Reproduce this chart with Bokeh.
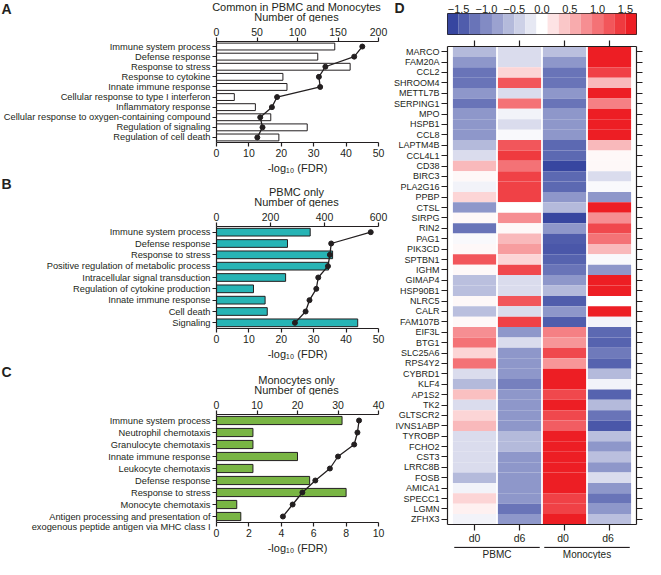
import numpy as np
from bokeh.plotting import figure
from bokeh.models import (Range1d, FactorRange, LinearAxis, CategoricalAxis, FixedTicker,
                          LinearColorMapper, ColumnDataSource, CustomJSTickFormatter)
from bokeh.layouts import row, column
from bokeh.embed import file_html
from bokeh.resources import INLINE
from bokeh.core.properties import value

# ---------------- data ----------------
A_terms = ["Immune system process", "Defense response", "Response to stress",
           "Response to cytokine", "Innate immune response",
           "Cellular response to type I interferon", "Inflammatory response",
           "Cellular response to oxygen-containing compound",
           "Regulation of signaling", "Regulation of cell death"]
A_genes = [146, 125, 165, 82, 87, 22, 48, 67, 112, 77]
A_fdr = [45.0, 42.5, 33.6, 31.6, 32.0, 18.7, 17.1, 13.5, 14.2, 12.6]

B_terms = ["Immune system process", "Defense response", "Response to stress",
           "Positive regulation of metabolic process", "Intracellular signal transduction",
           "Regulation of cytokine production", "Innate immune response",
           "Cell death", "Signaling"]
B_genes = [347, 263, 430, 415, 256, 137, 180, 188, 523]
B_fdr = [47.6, 35.4, 35.0, 34.4, 31.4, 30.8, 28.7, 27.5, 24.2]

C_terms = ["Immune system process", "Neutrophil chemotaxis", "Granulocyte chemotaxis",
           "Innate immune response", "Leukocyte chemotaxis", "Defense response",
           "Response to stress", "Monocyte chemotaxis",
           "\nAntigen processing and presentation of\nexogenous peptide antigen via MHC class I"]
C_genes = [31, 9, 9, 20, 9, 23, 32, 5, 6]
C_fdr = [8.8, 8.7, 8.5, 7.5, 7.0, 6.1, 5.3, 4.7, 4.1]

genes = ["MARCO", "FAM20A", "CCL2", "SHROOM4", "METTL7B", "SERPING1", "MPO", "HSPB1",
         "CCL8", "LAPTM4B", "CCL4L1", "CD38", "BIRC3", "PLA2G16", "PPBP", "CTSL", "SIRPG",
         "RIN2", "PAG1", "PIK3CD", "SPTBN1", "IGHM", "GIMAP4", "HSP90B1", "NLRC5", "CALR",
         "FAM107B", "EIF3L", "BTG1", "SLC25A6", "RPS4Y2", "CYBRD1", "KLF4", "AP1S2", "TK2",
         "GLTSCR2", "IVNS1ABP", "TYROBP", "FCHO2", "CST3", "LRRC8B", "FOSB", "AMICA1",
         "SPECC1", "LGMN", "ZFHX3"]
pbmc_d0 = [-0.6, -0.9, -1.2, -1.2, -0.9, -1.2, -0.9, -0.9, -0.9, -0.6, -0.3, 0.5, 0.05, -0.1,
           0.3, -0.9, 0.05, -1.2, -0.05, 0.05, 1.2, 0.05, -0.55, -0.55, 0.05, -0.55, 0.05, 0.8,
           1.0, 0.3, 1.0, -0.3, -0.6, 0.45, -0.3, 0.3, 0.5, -0.3, -0.3, -0.3, -0.3, -0.6, -0.1,
           0.3, 0.1, -0.1]
pbmc_d6 = [-0.3, -0.3, 0.3, 1.2, -0.3, 1.0, -0.1, -0.3, -0.05, 1.2, 1.4, 1.0, 1.35, 1.35, 1.35,
           0.0, 0.8, 0.05, 0.5, 0.7, 0.3, 1.3, -0.3, -0.3, 1.2, -0.3, 1.35, -0.9, -0.3, -0.9,
           -0.9, -0.9, -1.1, -0.9, -0.9, -0.9, -0.9, -0.6, -0.6, -0.9, -0.9, -0.9, -0.9, -0.9,
           -1.2, -0.9]
mono_d0 = [-0.55, -0.9, -1.2, -1.2, -0.9, -1.2, -0.9, -0.9, -0.9, -1.3, -1.3, -1.6, -1.3, -1.3,
           -0.9, -0.6, -1.6, -0.9, -1.4, -1.45, -1.35, -1.2, -0.9, -0.6, -1.4, -0.9, -1.4, 0.9,
           0.75, 1.3, 0.75, 1.6, 1.6, 1.3, 1.6, 1.3, 1.15, 1.6, 1.6, 1.6, 1.6, 1.6, 1.6, 1.35,
           1.35, 1.6]
mono_d6 = [1.6, 1.6, 1.35, 0.5, 1.6, 0.9, 1.6, 1.6, 1.6, 0.5, 0.05, 0.05, -0.3, -0.05, -0.9,
           1.6, 0.8, 1.3, 1.0, 0.5, -0.05, -0.9, 1.6, 1.6, 0.0, 1.6, -0.1, -1.3, -1.35, -1.15,
           -1.35, -0.6, -0.1, -1.35, -0.6, -1.2, -1.45, -0.55, -0.9, -0.55, -0.9, -0.3, -0.9,
           -1.2, -0.9, -0.55]
columns_x = ["d0", "d6", "d0 ", "d6 "]
group_names = ["PBMC", "Monocytes"]
group_first = ["d0", "d0 "]
group_last = ["d6", "d6 "]
cb_ticks = [-1.5, -1.0, -0.5, 0.0, 0.5, 1.0, 1.5]
cb_labels = ["\u22121.5", "\u22121.0", "\u22120.5", "0.0", "0.5", "1.0", "1.5"]

FONT = "Liberation Sans"
INK = "#231f20"
LEFT_W = 389
LEFT_B = 214
FRAME_W = 164


def style_axis(ax, label_size="10.5px"):
    ax.axis_line_color = INK
    ax.axis_line_width = 1.2
    ax.major_tick_line_color = INK
    ax.major_tick_line_width = 1.2
    ax.major_tick_in = 0
    ax.major_tick_out = 4
    ax.minor_tick_line_color = None
    ax.major_label_text_font = FONT
    ax.major_label_text_font_size = label_size
    ax.major_label_text_color = INK
    ax.major_label_standoff = 2
    ax.axis_label_text_font = FONT
    ax.axis_label_text_font_size = "11px"
    ax.axis_label_text_font_style = "normal"
    ax.axis_label_text_color = INK
    ax.axis_label_standoff = 2


def blank_fig(width, height):
    f = figure(width=width, height=height, x_range=Range1d(0, width),
               y_range=Range1d(height, 0), output_backend="svg", toolbar_location=None,
               min_border=0, x_axis_location=None, y_axis_location=None,
               frame_align=False)
    f.outline_line_color = None
    f.grid.visible = False
    return f


def header(letter, lines, height, letter_y, line_ys):
    h = blank_fig(LEFT_W, height)
    h.text(x=[1], y=[letter_y], text=[letter], text_font=value(FONT),
           text_font_size="14px", text_font_style="bold", text_align="left",
           text_baseline="middle", text_color=INK)
    h.text(x=[LEFT_B + FRAME_W / 2] * len(lines), y=line_ys, text=lines,
           text_font=value(FONT), text_font_size="11px", text_align="center",
           text_baseline="middle", text_color=INK)
    return h


def go_panel(terms, ngenes, fdr, gmax, gticks, fmax, fticks, fill, height, btop, bbot):
    cats = list(reversed(terms))
    p = figure(width=LEFT_W, height=height, y_range=FactorRange(factors=cats),
               x_range=Range1d(0, fmax), output_backend="svg", toolbar_location=None,
               min_border_left=LEFT_B, min_border_right=LEFT_W - LEFT_B - FRAME_W,
               min_border_top=btop, min_border_bottom=bbot)
    p.extra_x_ranges = {"genes": Range1d(0, gmax)}
    p.outline_line_color = None
    p.xgrid.visible = False
    p.ygrid.visible = False
    p.hbar(y=terms, left=0, right=ngenes, height=0.68, x_range_name="genes",
           fill_color=fill, line_color=INK, line_width=1)
    p.line(x=fdr, y=terms, line_color=INK, line_width=1.3)
    p.scatter(x=fdr, y=terms, size=5, fill_color=INK, line_color=INK)

    top = LinearAxis(x_range_name="genes", ticker=FixedTicker(ticks=gticks))
    p.add_layout(top, "above")
    style_axis(top)

    for ax in p.below:
        ax.ticker = FixedTicker(ticks=fticks)
        ax.axis_label = "-log\u2081\u2080 (FDR)"
        style_axis(ax)
    for ax in p.left:
        style_axis(ax, "9.3px")
        ax.major_label_text_line_height = 1.05
    return p


hA = header("A", ["Common in PBMC and Monocytes", "Number of genes"], 22, 8, [6, 16])
pA = go_panel(A_terms, A_genes, A_fdr, 200, [0, 50, 100, 150, 200], 50,
              [0, 10, 20, 30, 40, 50], "white", 154, 19, 30)
hB = header("B", ["PBMC only", "Number of genes"], 31, 7, [15.5, 25])
pB = go_panel(B_terms, B_genes, B_fdr, 600, [0, 200, 400, 600], 50,
              [0, 10, 20, 30, 40, 50], "#27b4b5", 155, 19, 28)
hC = header("C", ["Monocytes only", "Number of genes"], 33, 9, [17, 27])
pC = go_panel(C_terms, C_genes, C_fdr, 40, [0, 10, 20, 30, 40], 10,
              [0, 2, 4, 6, 8, 10], "#79b544", 164, 19, 37)

# ---------------- heatmap ----------------
blue = (55, 70, 160)
red = (237, 30, 36)


def diverging(c):
    t = min(abs(c) / 1.6, 1.0)
    end = blue if c < 0 else red
    rgb = [int(round(255 * (1 - t) + e * t)) for e in end]
    return "#%02x%02x%02x" % tuple(rgb)


# colour bar: 17 steps of 0.2
centers = np.round(np.arange(-1.6, 1.61, 0.2), 2)
palette = [diverging(c) for c in centers]
# cells: finer steps of 0.05 over the same scale
fine_centers = np.round(np.arange(-1.7, 1.701, 0.05), 3)
fine_palette = [diverging(c) for c in fine_centers]
mapper = LinearColorMapper(palette=fine_palette, low=-1.725, high=1.725)

xs, ys, vs = [], [], []
for col, vals in zip(columns_x, [pbmc_d0, pbmc_d6, mono_d0, mono_d6]):
    for g, v in zip(genes, vals):
        xs.append(col)
        ys.append(g)
        vs.append(v)
src = ColumnDataSource(dict(x=xs, y=ys, v=vs))

D_W = 645 - LEFT_W
D_B = 58
xr = FactorRange(factors=columns_x, range_padding=0.05)
heat = figure(width=D_W, height=508, x_range=xr,
              y_range=FactorRange(factors=list(reversed(genes))),
              output_backend="svg", toolbar_location=None, min_border_left=D_B,
              min_border_right=9, min_border_top=8, min_border_bottom=19)
heat.outline_line_color = None
heat.xgrid.visible = False
heat.ygrid.visible = False
heat.rect(x="x", y="y", width=0.96, height=1.0, source=src,
          fill_color={"field": "v", "transform": mapper}, line_color=None)
for ax in heat.left:
    style_axis(ax, "9px")
    ax.major_tick_out = 6
for ax in heat.below:
    style_axis(ax, "10.5px")
    ax.major_tick_out = 6
    ax.major_label_standoff = 1
blank = CustomJSTickFormatter(code="return ''")
top_h = CategoricalAxis(formatter=blank)
heat.add_layout(top_h, "above")
right_h = CategoricalAxis(formatter=blank)
heat.add_layout(right_h, "right")
for ax in (top_h, right_h):
    style_axis(ax)
    ax.major_tick_out = 6
    ax.major_label_standoff = 0

# group labels under the heatmap
grp = figure(width=D_W, height=13, x_range=xr, y_range=Range1d(0, 1),
             output_backend="svg", toolbar_location=None, min_border_left=D_B,
             min_border_right=9, min_border_top=0, min_border_bottom=0,
             x_axis_location=None, y_axis_location=None)
grp.outline_line_color = None
grp.xgrid.visible = False
grp.ygrid.visible = False
grp.segment(x0=[(f, -0.45) for f in group_first], x1=[(l, 0.45) for l in group_last],
            y0=[0.94, 0.94], y1=[0.94, 0.94], line_color=INK, line_width=1.2)
grp.text(x=[(l, -0.5) for l in group_last], y=[0.42, 0.42], text=group_names,
         text_font=value(FONT), text_font_size="10px", text_align="center",
         text_baseline="middle", text_color=INK)

# colour bar with the panel letter to its left
CB_H = 38
dfig = blank_fig(D_B, CB_H)
dfig.text(x=[5], y=[7], text=["D"], text_font=value(FONT), text_font_size="14px",
          text_font_style="bold", text_align="left", text_baseline="middle",
          text_color=INK)
cb = figure(width=D_W - D_B, height=CB_H, x_range=Range1d(-1.7, 1.7), y_range=Range1d(0, 1),
            output_backend="svg", toolbar_location=None, min_border_left=0,
            min_border_right=9, min_border_top=13, min_border_bottom=4,
            x_axis_location="above", y_axis_location=None)
cb.xgrid.visible = False
cb.ygrid.visible = False
cb.outline_line_color = INK
cb.outline_line_width = 1
cb.rect(x=list(centers), y=0.5, width=0.2, height=1, fill_color=palette, line_color=None)
for ax in cb.above:
    style_axis(ax, "11px")
    ax.ticker = FixedTicker(ticks=cb_ticks)
    ax.major_label_overrides = {t: l for t, l in zip(cb_ticks, cb_labels)}
    ax.axis_line_color = None
    ax.major_tick_line_color = None
    ax.major_tick_out = 0
    ax.major_label_standoff = 1

layout = row(column(hA, pA, hB, pB, hC, pC), column(row(dfig, cb), heat, grp))
open("out.html", "w").write(file_html(layout, INLINE))
